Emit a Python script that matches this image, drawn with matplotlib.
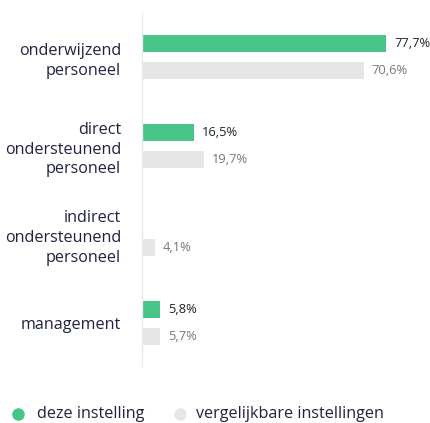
import matplotlib
matplotlib.use("Agg")
import matplotlib.pyplot as plt
from matplotlib.lines import Line2D
import numpy as np

plt.rcParams['font.family'] = ['Open Sans', 'DejaVu Sans']

categories = ["onderwijzend\npersoneel", "direct\nondersteunend\npersoneel",
              "indirect\nondersteunend\npersoneel", "management"]
deze = [77.7, 16.5, None, 5.8]
vergelijkbaar = [70.6, 19.7, 4.1, 5.7]
series_names = ["deze instelling", "vergelijkbare instellingen"]

green = "#47c487"
gray = "#e6e6e6"
label_color = "#1f2340"

W, H = 430, 423
fig = plt.figure(figsize=(W/100, H/100), dpi=100)
ax = fig.add_axes([142/W, (H-366)/H, 278/W, 353/H])

y = np.arange(len(categories))
off = 0.153
h = 0.19

def fmt(v):
    return f"{v:.1f}".replace(".", ",") + "%"

for i, v in enumerate(deze):
    if v is not None:
        ax.barh(y[i] - off, v, height=h, color=green, edgecolor="none")
        ax.annotate(fmt(v), (v, y[i] - off), xytext=(8, 0), textcoords="offset pixels",
                    va="center", ha="left", fontsize=9.3, color="#222222")
for i, v in enumerate(vergelijkbaar):
    ax.barh(y[i] + off, v, height=h, color=gray, edgecolor="none")
    ax.annotate(fmt(v), (v, y[i] + off), xytext=(8, 0), textcoords="offset pixels",
                va="center", ha="left", fontsize=9.3, color="#777777")

ax.set_xlim(0, 278/3.14)
ax.set_ylim(3.49, -0.50)
ax.set_yticks(y)
ax.set_yticklabels(categories, fontsize=11.6, color=label_color, linespacing=1.3)
ax.tick_params(axis="y", length=0, pad=15)
ax.set_xticks([])
for s in ["top", "right", "bottom"]:
    ax.spines[s].set_visible(False)
ax.spines["left"].set_color("#ebebeb")
ax.spines["left"].set_linewidth(1)

# legend (manual placement)
ly = (H - 414) / H
for cx, tx, col, name in [(18, 37, green, series_names[0]), (180, 196, gray, series_names[1])]:
    fig.add_artist(Line2D([cx/W], [ly], transform=fig.transFigure, marker="o",
                          linestyle="none", markersize=8, color=col))
    fig.text(tx/W, ly, name, fontsize=11.6, color=label_color, va="center", ha="left")

fig.savefig("out.png", dpi=100)
